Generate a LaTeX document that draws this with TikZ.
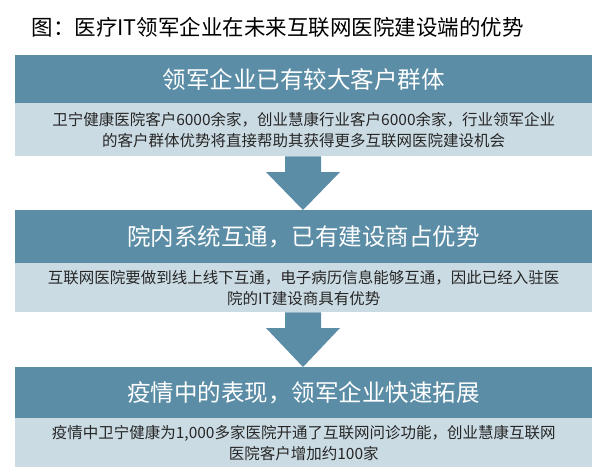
\documentclass[tikz,border=0pt]{standalone}
\usepackage{fontspec}
\setmainfont{Liberation Sans}
\newfontfamily\cjk{Noto Sans CJK SC}
\begin{document}
\begin{tikzpicture}[x=1pt,y=-1pt,
  head/.style={fill=hdblue,text=white,font=\cjk\fontsize{23.5}{26}\selectfont,inner sep=0pt,anchor=north west,minimum width=577pt,minimum height=#1pt},
  body/.style={fill=bdblue,text=black!85,font=\cjk\fontsize{15.5}{21}\selectfont,inner sep=0pt,anchor=north west,minimum width=577pt,minimum height=#1pt,align=center},
  arr/.style={fill=hdblue,draw=none}]
\definecolor{hdblue}{HTML}{5B8DA6}
\definecolor{bdblue}{HTML}{CBDBE3}
\useasboundingbox (0,0) rectangle (600,475);
\fill[white] (0,0) rectangle (600,475);
\node[font=\cjk\fontsize{21.5}{24}\selectfont,anchor=west] (title) at (28,27) {图：医疗IT领军企业在未来互联网医院建设端的优势};
\node[head=48] (h1) at (15,55) {领军企业已有较大客户群体};
\node[body=53] (b1) at (15,103) {卫宁健康医院客户6000余家，创业慧康行业客户6000余家，行业领军企业\\的客户群体优势将直接帮助其获得更多互联网医院建设机会};
\node[head=53] (h2) at (15,210) {院内系统互通，已有建设商占优势};
\node[body=49] (b2) at (15,263) {互联网医院要做到线上线下互通，电子病历信息能够互通，因此已经入驻医\\院的IT建设商具有优势};
\node[head=51] (h3) at (15,367) {疫情中的表现，领军企业快速拓展};
\node[body=49] (b3) at (15,418) {疫情中卫宁健康为1,000多家医院开通了互联网问诊功能，创业慧康互联网\\医院客户增加约100家};
\coordinate (t1) at (303,210);
\coordinate (t2) at (303,367);
\fill[arr] (b1.south -| 285,0) -- (285,172) -- (266,172) -- (t1) -- (340,172) -- (321,172) -- (b1.south -| 321,0) -- cycle;
\fill[arr] (b2.south -| 285,0) -- (285,328) -- (266,328) -- (t2) -- (340,328) -- (321,328) -- (b2.south -| 321,0) -- cycle;
\end{tikzpicture}
\end{document}
